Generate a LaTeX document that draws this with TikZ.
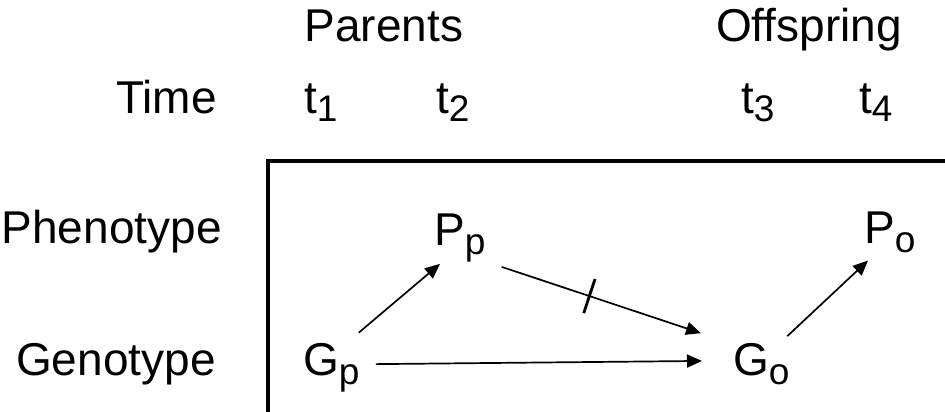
\documentclass[tikz,border=0pt]{standalone}
\usepackage{fontspec}
\setmainfont{Liberation Sans}
\usetikzlibrary{arrows.meta,decorations.markings}
\newcommand{\lowsub}[1]{\raisebox{-9pt}{\fontsize{37}{40}\selectfont #1}}

\begin{document}
\begin{tikzpicture}[x=1pt, y=-1pt,
	lbl/.style={anchor=base west, inner sep=0pt, font=\fontsize{46}{52}\selectfont},
	arr/.style={line width=1.7pt, -{Triangle[length=15pt,width=13pt]}},
	frame/.style={line width=4.8pt, line join=miter}]

	\useasboundingbox (0,0) rectangle (945,412);

	% column headings
	\node[lbl] (parents) at (304.5,42) {Parents};
	\node[lbl] (offspring) at (716,42) {Offspring};
	\node[lbl] (time) at (116,113) {Time};
	\node[lbl] (t1) at (304,113) {t\lowsub{1}};
	\node[lbl] (t2) at (436,113) {t\lowsub{2}};
	\node[lbl] (t3) at (741,113) {t\lowsub{3}};
	\node[lbl] (t4) at (859,113) {t\lowsub{4}};

	% row headings
	\node[lbl] (pheno) at (1.5,243) {Phenotype};
	\node[lbl] (geno) at (16,375) {Genotype};

	% frame
	\draw[frame] (945,161) -- (268,161) -- (268,412);

	% variables
	\node[lbl] (Gp) at (303,375) {G\lowsub{p}};
	\node[lbl] (Pp) at (434,245) {P\lowsub{p}};
	\node[lbl] (Go) at (733,375) {G\lowsub{o}};
	\node[lbl] (Po) at (864,243) {P\lowsub{o}};

	% arrows
	\draw[arr] ([shift={(-1,-10)}]Gp.north east) -- ([shift={(6,2)}]Pp.south west);
	\draw[arr, shorten <=16pt, shorten >=31pt] ([yshift=3pt]Gp.east) -- ([yshift=3pt]Go.west);
	\draw[arr, postaction={decorate}, decoration={markings,
		mark=at position .44 with {\draw[line width=2.8pt,-] (0,-18pt) -- (0,18pt);}}]
		([shift={(16,5)}]Pp.south east) -- ([shift={(-32,-9.5)}]Go.north west);
	\draw[arr] ([shift={(-2.5,-6.5)}]Go.north east) -- ([shift={(4,8)}]Po.south west);

\end{tikzpicture}
\end{document}
